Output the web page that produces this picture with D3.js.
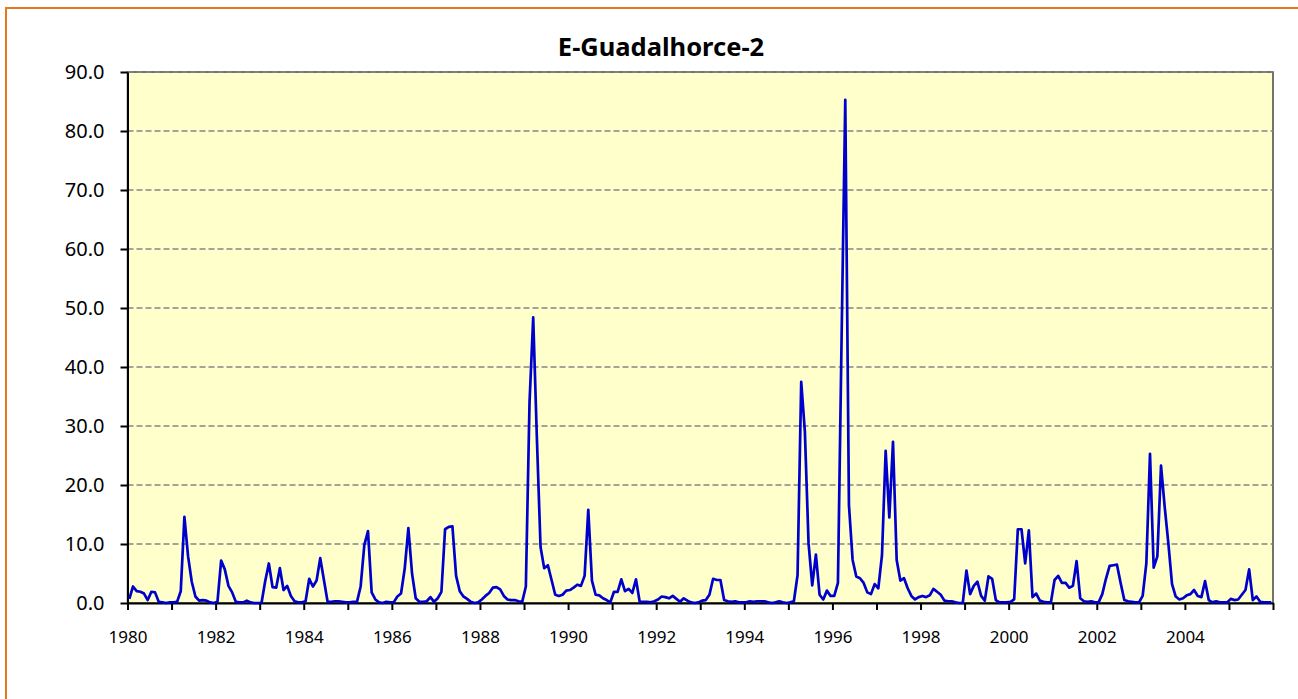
<!DOCTYPE html>
<html>
<head>
<meta charset="utf-8">
<script src="https://cdn.jsdelivr.net/npm/d3@7"></script>
<style>
  body { margin: 0; background: #fff; }
  svg { display: block; font-family: "Noto Sans", "Open Sans", sans-serif; }
</style>
</head>
<body>
<svg id="chart" width="1298" height="699"></svg>
<script>
// chart title and first year of the monthly series
const chartTitle = "E-Guadalhorce-2";
const firstYear = 1980;

// monthly values, one array per year (Jan..Dec)
const m1980 = [0.7, 2.8, 2.0, 1.9, 1.6, 0.5, 1.9, 1.8, 0.2, 0.1, 0.0, 0.1];
const m1981 = [0.1, 0.2, 2.0, 14.6, 7.9, 3.6, 1.1, 0.4, 0.5, 0.4, 0.1, 0.0];
const m1982 = [0.2, 7.2, 5.7, 2.9, 1.8, 0.2, 0.1, 0.1, 0.4, 0.1, 0.0, 0.0];
const m1983 = [0.0, 3.7, 6.7, 2.7, 2.6, 5.9, 2.2, 2.9, 1.2, 0.3, 0.1, 0.1];
const m1984 = [0.3, 4.1, 2.8, 3.8, 7.6, 3.9, 0.2, 0.2, 0.3, 0.3, 0.2, 0.1];
const m1985 = [0.1, 0.2, 0.2, 2.8, 9.8, 12.2, 1.8, 0.6, 0.1, 0.0, 0.2, 0.1];
const m1986 = [0.1, 1.1, 1.6, 5.8, 12.7, 5.0, 0.8, 0.2, 0.2, 0.3, 1.0, 0.2];
const m1987 = [0.8, 1.9, 12.5, 12.9, 13.0, 4.6, 2.0, 1.1, 0.7, 0.2, 0.0, 0.1];
const m1988 = [0.6, 1.2, 1.7, 2.6, 2.7, 2.3, 1.2, 0.6, 0.5, 0.5, 0.3, 0.2];
const m1989 = [2.8, 34.0, 48.4, 28.0, 9.5, 5.9, 6.4, 3.9, 1.4, 1.2, 1.4, 2.1];
const m1990 = [2.2, 2.6, 3.1, 2.9, 4.6, 15.8, 3.8, 1.4, 1.3, 0.8, 0.5, 0.1];
const m1991 = [1.9, 1.9, 4.0, 2.0, 2.4, 1.7, 4.0, 0.2, 0.2, 0.2, 0.1, 0.3];
const m1992 = [0.6, 1.1, 1.0, 0.8, 1.2, 0.7, 0.2, 0.8, 0.4, 0.1, 0.0, 0.1];
const m1993 = [0.4, 0.5, 1.4, 4.1, 3.9, 3.9, 0.5, 0.3, 0.2, 0.3, 0.1, 0.1];
const m1994 = [0.1, 0.3, 0.2, 0.3, 0.3, 0.3, 0.1, 0.0, 0.1, 0.3, 0.1, 0.0];
const m1995 = [0.1, 0.3, 4.7, 37.5, 29.0, 10.1, 3.0, 8.2, 1.4, 0.6, 2.1, 1.2];
const m1996 = [1.2, 3.4, 45.0, 85.3, 16.6, 7.3, 4.5, 4.2, 3.4, 1.8, 1.5, 3.2];
const m1997 = [2.5, 8.1, 25.8, 14.5, 27.3, 7.3, 3.8, 4.2, 2.5, 1.2, 0.6, 1.0];
const m1998 = [1.2, 1.0, 1.3, 2.4, 1.9, 1.4, 0.4, 0.3, 0.3, 0.1, 0.0, 0.0];
const m1999 = [5.5, 1.5, 2.9, 3.6, 1.2, 0.4, 4.5, 4.1, 0.5, 0.1, 0.1, 0.1];
const m2000 = [0.2, 0.6, 12.5, 12.5, 6.7, 12.3, 1.0, 1.6, 0.4, 0.2, 0.1, 0.1];
const m2001 = [3.9, 4.6, 3.4, 3.4, 2.6, 2.9, 7.1, 0.8, 0.3, 0.2, 0.3, 0.1];
const m2002 = [0.1, 1.5, 4.1, 6.3, 6.4, 6.5, 3.4, 0.5, 0.3, 0.2, 0.1, 0.1];
const m2003 = [1.2, 6.7, 25.3, 6.0, 7.9, 23.3, 16.3, 10.1, 3.2, 1.1, 0.6, 0.8];
const m2004 = [1.3, 1.5, 2.2, 1.2, 1.0, 3.7, 0.5, 0.1, 0.3, 0.1, 0.1, 0.1];
const m2005 = [0.7, 0.5, 0.6, 1.4, 2.2, 5.7, 0.5, 1.1, 0.2, 0.1, 0.1, 0.1];

// y axis ticks
const yTicks = [0, 10, 20, 30, 40, 50, 60, 70, 80, 90];

const series = [m1980, m1981, m1982, m1983, m1984, m1985, m1986, m1987, m1988,
    m1989, m1990, m1991, m1992, m1993, m1994, m1995, m1996, m1997, m1998,
    m1999, m2000, m2001, m2002, m2003, m2004, m2005].flat();

const nMonths = series.length;
const plot = {left: 127.5, right: 1273, top: 72, bottom: 603};

let svg = d3.select('#chart');

// orange outer frame (the chart area is cut by the picture edge)
svg.append('rect')
    .attr('x', 6).attr('y', 8)
    .attr('width', 1400).attr('height', 800)
    .attr('fill', '#fff')
    .attr('stroke', '#E8761A')
    .attr('stroke-width', 2);

let xScale = d3.scaleLinear()
    .domain([0, nMonths])
    .range([plot.left, plot.right]);

let yScale = d3.scaleLinear()
    .domain([0, 90])
    .range([plot.bottom, plot.top]);

// plot area
svg.append('rect')
    .attr('x', plot.left).attr('y', plot.top)
    .attr('width', plot.right - plot.left)
    .attr('height', plot.bottom - plot.top)
    .attr('fill', '#FFFFCC')
    .attr('stroke', '#444')
    .attr('stroke-width', 1.5);

// dashed gridlines
svg.append('g')
    .selectAll('line')
    .data(yTicks.filter(d => d > 0))
    .join('line')
    .attr('x1', plot.left).attr('x2', plot.right)
    .attr('y1', d => yScale(d)).attr('y2', d => yScale(d))
    .attr('stroke', '#858585')
    .attr('stroke-width', 1.4)
    .attr('stroke-dasharray', '6,3');

// y axis
let yAxis = svg.append('g')
    .attr('transform', `translate(${plot.left},0)`)
    .call(d3.axisLeft(yScale)
        .tickValues(yTicks)
        .tickFormat(d3.format('.1f'))
        .tickSize(7)
        .tickSizeOuter(0)
        .tickPadding(16));
yAxis.selectAll('path, line').attr('stroke', '#000').attr('stroke-width', 2);
yAxis.selectAll('text').attr('font-size', 20).attr('fill', '#000')
    .attr('font-family', '"Noto Sans", sans-serif');

// x axis: a tick every year, a label every second year
let yearTicks = d3.range(0, nMonths + 1, 12);
let xAxis = svg.append('g')
    .attr('transform', `translate(0,${plot.bottom})`)
    .call(d3.axisBottom(xScale)
        .tickValues(yearTicks)
        .tickFormat(d => (d % 24 === 0 && d < nMonths) ? String(firstYear + d / 12) : '')
        .tickSize(7)
        .tickSizeOuter(0)
        .tickPadding(21));
xAxis.selectAll('path, line').attr('stroke', '#000').attr('stroke-width', 2);
xAxis.selectAll('text').attr('font-size', 17).attr('fill', '#000')
    .attr('font-family', '"Noto Sans", sans-serif');

// monthly line
let line = d3.line()
    .x((d, i) => xScale(i + 0.5))
    .y(d => yScale(d));

svg.append('path')
    .datum(series)
    .attr('d', line)
    .attr('fill', 'none')
    .attr('stroke', '#0000CC')
    .attr('stroke-width', 2.7)
    .attr('stroke-linejoin', 'round');

// title
svg.append('text')
    .attr('x', 661).attr('y', 56)
    .attr('text-anchor', 'middle')
    .attr('font-size', 25.5)
    .attr('font-weight', 'bold')
    .text(chartTitle);
</script>
</body>
</html>
